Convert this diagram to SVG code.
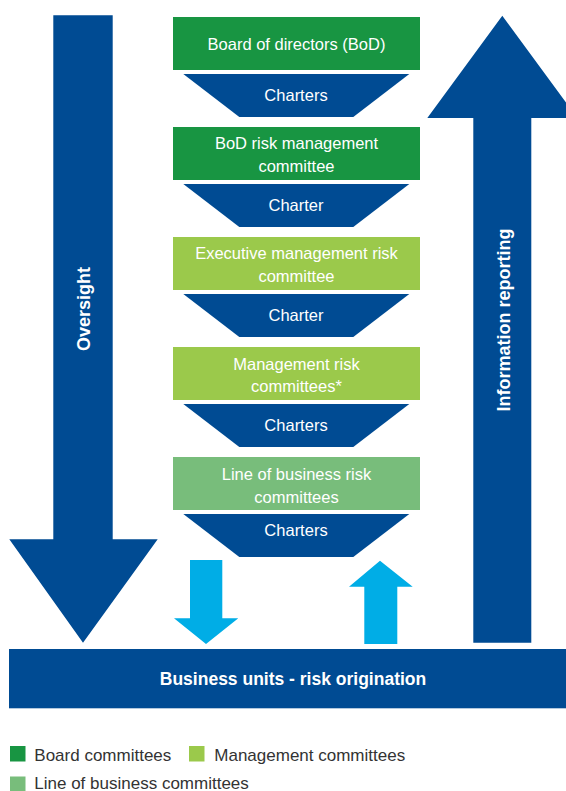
<svg xmlns="http://www.w3.org/2000/svg" width="566" height="791" viewBox="0 0 566 791">
<style>
.navy{fill:#004b93}
.cyan{fill:#00ade6}
.board{fill:#189542}
.mgmt{fill:#9bc94b}
.lob{fill:#78bd7b}
.bt{font-family:"Liberation Sans",Arial,sans-serif;font-size:16.5px;fill:#ffffff;text-anchor:middle}
.bold{font-family:"Liberation Sans",Arial,sans-serif;font-weight:bold;fill:#ffffff;text-anchor:middle}
.leg{font-family:"Liberation Sans",Arial,sans-serif;font-size:17px;fill:#333333}
</style>
<rect width="566" height="791" fill="#ffffff"/>
<g id="oversight">
<polygon class="navy" points="53.3,15.3 112.7,15.3 112.7,539.3 157.7,539.3 83,642.7 9.3,539.3 53.3,539.3"/>
<text class="bold" font-size="18" transform="translate(89.5,309) rotate(-90)">Oversight</text>
</g>
<g id="information-reporting">
<polygon class="navy" points="502.3,15.7 577.3,118 531.3,118 531.3,642.7 473.3,642.7 473.3,118 427.3,118"/>
<text class="bold" font-size="18" transform="translate(509.5,320) rotate(-90)">Information reporting</text>
</g>
<g id="bod">
<rect class="board" x="173" y="17" width="247" height="53"/>
<text class="bt" x="296.5" y="50">Board of directors (BoD)</text>
</g>
<g id="charters-1">
<polygon class="navy" points="183.3,74 409.3,74 353.3,117 239.3,117"/>
<text class="bt" x="296" y="100.5">Charters</text>
</g>
<g id="bod-risk">
<rect class="board" x="173" y="127" width="247" height="53"/>
<text class="bt" x="296.5" y="148.5">BoD risk management</text>
<text class="bt" x="296.5" y="171.5">committee</text>
</g>
<g id="charter-2">
<polygon class="navy" points="183.3,184 409.3,184 353.3,227 239.3,227"/>
<text class="bt" x="296" y="210.5">Charter</text>
</g>
<g id="exec-risk">
<rect class="mgmt" x="173" y="237" width="247" height="53"/>
<text class="bt" x="296.5" y="259">Executive management risk</text>
<text class="bt" x="296.5" y="281.5">committee</text>
</g>
<g id="charter-3">
<polygon class="navy" points="183.3,294 409.3,294 353.3,337 239.3,337"/>
<text class="bt" x="296" y="320.5">Charter</text>
</g>
<g id="mgmt-risk">
<rect class="mgmt" x="173" y="347" width="247" height="53"/>
<text class="bt" x="296.5" y="369.5">Management risk</text>
<text class="bt" x="296.5" y="392">committees*</text>
</g>
<g id="charters-4">
<polygon class="navy" points="183.3,404 409.3,404 353.3,447 239.3,447"/>
<text class="bt" x="296" y="430.5">Charters</text>
</g>
<g id="lob-risk">
<rect class="lob" x="173" y="457" width="247" height="53"/>
<text class="bt" x="296.5" y="480">Line of business risk</text>
<text class="bt" x="296.5" y="503">committees</text>
</g>
<g id="charters-5">
<polygon class="navy" points="183.3,514 409.3,514 353.3,557 239.3,557"/>
<text class="bt" x="296" y="536">Charters</text>
</g>
<g id="connectors">
<polygon class="cyan" points="190,560 222.3,560 222.3,618.3 238.3,618.3 206,644 174,618.3 190,618.3"/>
<polygon class="cyan" points="380,560.7 412.7,586.7 397.3,586.7 397.3,644 364.3,644 364.3,586.7 349,586.7"/>
</g>
<g id="business-units">
<rect class="navy" x="9" y="649" width="560" height="59.3"/>
<text class="bold" font-size="17.5" x="293" y="684.5">Business units - risk origination</text>
</g>
<g id="legend">
<rect class="board" x="10" y="746" width="15.5" height="15.5"/>
<text class="leg" x="34.3" y="760.7">Board committees</text>
<rect class="mgmt" x="189" y="746" width="15.5" height="15.5"/>
<text class="leg" x="214.3" y="760.7">Management committees</text>
<rect class="lob" x="10" y="776.5" width="15.5" height="15.5"/>
<text class="leg" x="34.3" y="788.5" font-size="16.5">Line of business committees</text>
</g>
</svg>
